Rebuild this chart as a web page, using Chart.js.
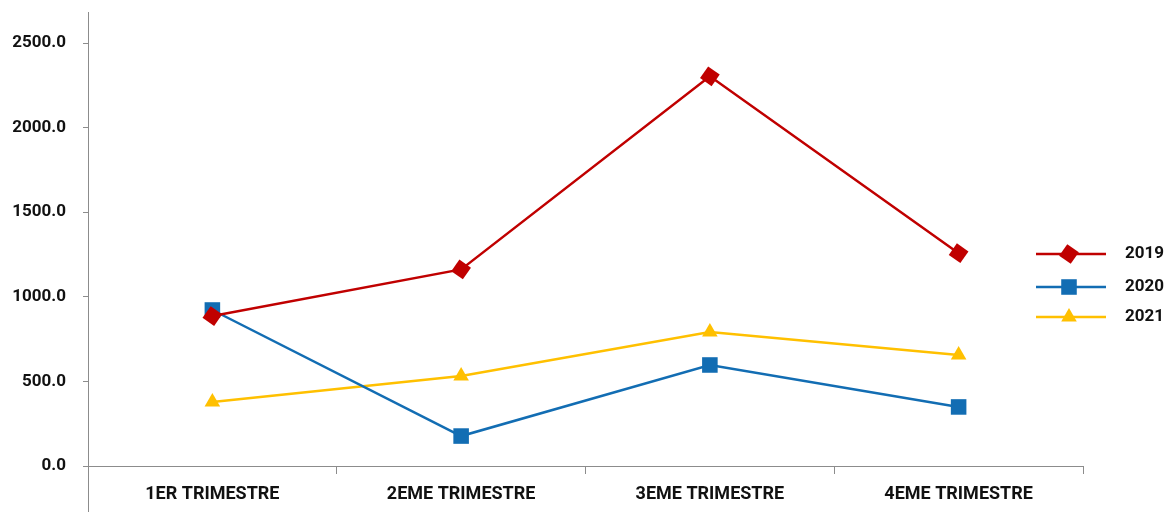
<!DOCTYPE html>
<html>
<head>
<meta charset="utf-8">
<script src="https://cdn.jsdelivr.net/npm/chart.js@4/dist/chart.umd.min.js"></script>
<style>
  html, body { margin: 0; padding: 0; background: #fff; }
  #wrap { width: 1170px; height: 512px; }
</style>
</head>
<body>
<div id="wrap"><canvas id="chart"></canvas></div>
<script>
const categories = ['1ER TRIMESTRE', '2EME TRIMESTRE', '3EME TRIMESTRE', '4EME TRIMESTRE'];
const seriesNames = ['2019', '2020', '2021'];
const values2019 = [886, 1162, 2303, 1258];
const values2020 = [922, 177, 597, 349];
const values2021 = [378, 532, 792, 656];
const yTicks = [0, 500, 1000, 1500, 2000, 2500];

const FONT = 'Roboto, "Liberation Sans", sans-serif';
const AXIS_GREY = '#8c8c8c';

const styles = [
    { color: '#C00000', pointStyle: 'rect', rotation: 35, radius: 10 },
    { color: '#126DB3', pointStyle: 'rect', rotation: 0, radius: 11 },
    { color: '#FFC000', pointStyle: 'triangle', rotation: 0, radius: 9 }
];
const allValues = [values2019, values2020, values2021];

// y axis line runs past the plot area, and legend draws line + marker
const extrasPlugin = {
    id: 'extras',
    afterDraw: function (chart) {
        const ctx = chart.ctx;
        const area = chart.chartArea;
        ctx.save();
        ctx.strokeStyle = AXIS_GREY;
        ctx.lineWidth = 1;
        ctx.beginPath();
        ctx.moveTo(area.left + 0.5, 12);
        ctx.lineTo(area.left + 0.5, 512);
        ctx.stroke();

        const rowsY = [254, 287, 317];
        chart.data.datasets.forEach(function (ds, i) {
            const y = rowsY[i];
            ctx.strokeStyle = ds.borderColor;
            ctx.lineWidth = 2.5;
            ctx.beginPath();
            ctx.moveTo(1036, y);
            ctx.lineTo(1106, y);
            ctx.stroke();
            ctx.fillStyle = ds.pointBackgroundColor;
            ctx.strokeStyle = ds.pointBorderColor;
            Chart.helpers.drawPoint(ctx, {
                pointStyle: ds.pointStyle,
                rotation: ds.pointRotation,
                radius: ds.pointRadius,
                borderWidth: 0
            }, 1069, y);
            ctx.fillStyle = '#111';
            ctx.font = 'bold 17px ' + FONT;
            ctx.textBaseline = 'middle';
            ctx.textAlign = 'left';
            ctx.fillText(ds.label, 1125, y);
        });
        ctx.restore();
    }
};

const datasets = seriesNames.map(function (name, i) {
    const s = styles[i];
    return {
        label: name,
        data: allValues[i],
        borderColor: s.color,
        backgroundColor: s.color,
        borderWidth: 2.5,
        pointStyle: s.pointStyle,
        pointRotation: s.rotation,
        pointRadius: s.radius,
        pointHoverRadius: s.radius,
        pointBackgroundColor: s.color,
        pointBorderColor: s.color,
        pointBorderWidth: 0,
        tension: 0
    };
});

new Chart(document.getElementById('chart'), {
    type: 'line',
    data: { labels: categories, datasets: datasets },
    options: {
        responsive: true,
        maintainAspectRatio: false,
        animation: false,
        layout: { padding: { top: 43, right: 87, left: 0, bottom: 0 } },
        plugins: {
            legend: { display: false },
            tooltip: { enabled: false }
        },
        scales: {
            x: {
                offset: true,
                afterFit: function (scale) { scale.height = 46; },
                border: { display: true, color: AXIS_GREY, width: 1 },
                grid: {
                    offset: true,
                    drawOnChartArea: false,
                    drawTicks: true,
                    tickLength: 8,
                    color: AXIS_GREY
                },
                ticks: {
                    padding: 10,
                    color: '#111',
                    font: { family: FONT, size: 18, weight: 'bold' }
                }
            },
            y: {
                min: 0,
                max: 2500,
                afterFit: function (scale) { scale.width = 88; },
                afterBuildTicks: function (scale) {
                    scale.ticks = yTicks.map(function (v) { return { value: v }; });
                },
                border: { display: false },
                grid: {
                    drawOnChartArea: false,
                    drawTicks: true,
                    tickLength: 5,
                    color: AXIS_GREY
                },
                ticks: {
                    padding: 17,
                    color: '#111',
                    font: { family: FONT, size: 17, weight: 'bold' },
                    callback: function (v) { return Number(v).toFixed(1); }
                }
            }
        }
    },
    plugins: [extrasPlugin]
});
</script>
</body>
</html>
